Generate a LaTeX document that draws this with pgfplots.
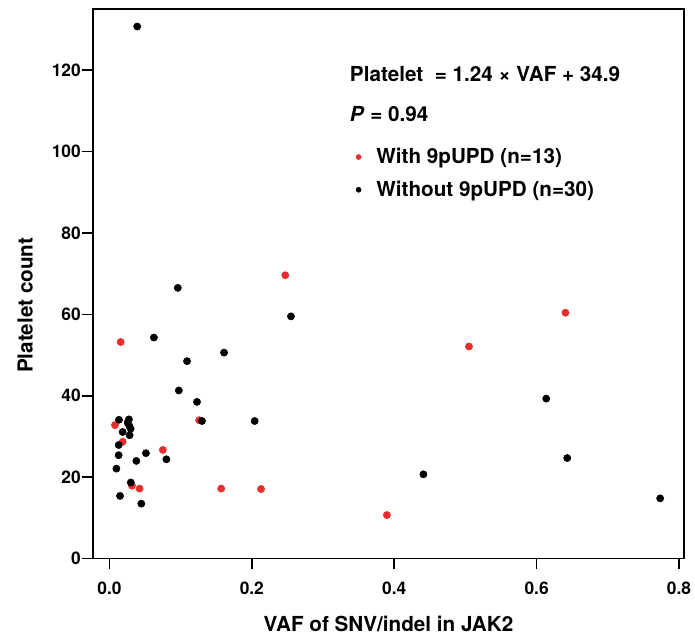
\documentclass[border=0pt]{standalone}
\usepackage{fontspec}
\setmainfont{TeX Gyre Heros}
\usepackage{pgfplots}
\pgfplotsset{compat=1.18}
\definecolor{myred}{RGB}{233,45,45}
\begin{document}
\begin{tikzpicture}
\begin{axis}[
  scale only axis, width=443pt, height=412pt,
  xmin=-0.023, xmax=0.807, ymin=0, ymax=135,
  xtick={0,0.2,0.4,0.6,0.8}, ytick={0,20,40,60,80,100,120},
  xticklabel style={/pgf/number format/fixed, /pgf/number format/fixed zerofill, /pgf/number format/precision=1, yshift=-6pt},
  yticklabel style={inner sep=1pt},
  /pgf/number format/assume math mode=true,
  ticklabel style={font=\fontsize{13}{15}\selectfont\bfseries},
  axis line style={line width=1.1pt},
  tick style={line width=1.1pt, black},
  major tick length=8pt, tick align=outside,
  xtick pos=bottom, ytick pos=left,
  xlabel={VAF of SNV/indel in JAK2}, ylabel={Platelet count},
  label style={font=\fontsize{15.5}{18}\selectfont\bfseries},
  xlabel style={at={(axis description cs:0.5,-0.1184)}, anchor=center},
  ylabel style={at={(axis description cs:-0.115,0.461)}, anchor=center},
  legend style={at={(axis cs:0.3457,101.5)}, anchor=north west, draw=none, fill=none,
    font=\fontsize{15.5}{18}\selectfont\bfseries, row sep=7.5pt, inner sep=0pt},
  legend cell align=left,
  clip=false,
]
\addplot[only marks, mark=*, mark size=2.7pt, color=myred, mark options={draw=myred, fill=myred},
  legend image code/.code={\fill[myred] (1.9pt,0pt) circle (1.9pt); \path[draw=none,fill=none] (0pt,-1pt) rectangle (13.2pt,1pt);}]
  coordinates {
  (0.247,69.6) (0.6405,60.4) (0.505,52.1) (0.0158,53.2) (0.126,34.0)
  (0.0078,32.8) (0.0186,28.7) (0.075,26.7) (0.0317,17.9) (0.0424,17.2)
  (0.157,17.2) (0.213,17.1) (0.3897,10.7)
  };
\addlegendentry{With 9pUPD (n=13)}
\addplot[only marks, mark=*, mark size=2.7pt, color=black, mark options={draw=black, fill=black},
  legend image code/.code={\fill[black] (1.9pt,0pt) circle (1.9pt); \path[draw=none,fill=none] (0pt,-1pt) rectangle (13.2pt,1pt);}]
  coordinates {
  (0.039,130.7) (0.096,66.5) (0.255,59.5) (0.0625,54.3) (0.161,50.6)
  (0.109,48.5) (0.0975,41.3) (0.123,38.5) (0.130,33.8) (0.204,33.8)
  (0.0134,34.1) (0.0274,34.2) (0.0256,33.4) (0.0298,31.9) (0.0186,31.1)
  (0.0284,30.3) (0.013,27.9) (0.0513,25.9) (0.013,25.4) (0.080,24.4)
  (0.0378,24.0) (0.0098,22.1) (0.030,18.7) (0.0149,15.4) (0.0448,13.5)
  (0.6135,39.3) (0.643,24.7) (0.441,20.7) (0.7735,14.8) (0.0280,32.6)
  };
\addlegendentry{Without 9pUPD (n=30)}
\node[anchor=west, font=\fontsize{15.5}{18}\selectfont\bfseries, inner sep=0pt] at (axis cs:0.3375,118.9) {Platelet\ \ = 1.24 × VAF + 34.9};
\node[anchor=west, font=\fontsize{15.5}{18}\selectfont\bfseries, inner sep=0pt] at (axis cs:0.3375,109.1) {\textit{P} = 0.94};
\end{axis}
\pgfresetboundingbox
\path[use as bounding box] ([shift={(-69.75pt,-63.75pt)}]current axis.south west) rectangle ([shift={(8.25pt,6.75pt)}]current axis.north east);
\end{tikzpicture}
\end{document}
